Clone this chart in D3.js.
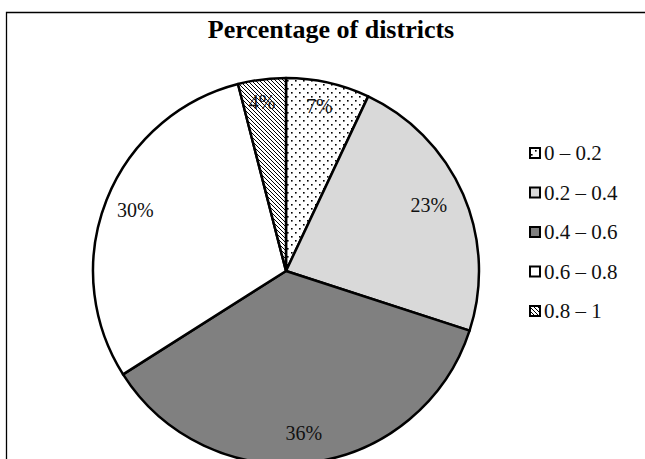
<!DOCTYPE html>
<html>
<head>
<meta charset="utf-8">
<script src="https://cdn.jsdelivr.net/npm/d3@7"></script>
<style>
  html, body { margin: 0; padding: 0; background: #fff; }
  svg { display: block; font-family: "Liberation Serif", "Times New Roman", serif; }
</style>
</head>
<body>
<svg id="chart" width="645" height="459"></svg>
<script>
// Share of districts by index range
const titleText = "Percentage of districts";
const categories = ["0 \u2013 0.2", "0.2 \u2013 0.4", "0.4 \u2013 0.6", "0.6 \u2013 0.8", "0.8 \u2013 1"];
const values = [7, 23, 36, 30, 4];
const fills = ["url(#dots)", "#d9d9d9", "#808080", "#ffffff", "url(#hatch)"];

const W = 645, H = 459;
const cx = 286, cy = 271, R = 193;

const svg = d3.select("#chart");
const defs = svg.append("defs");

// dotted fill
const dots = defs.append("pattern")
  .attr("id", "dots").attr("patternUnits", "userSpaceOnUse")
  .attr("width", 8).attr("height", 8);
dots.append("rect").attr("width", 8).attr("height", 8).attr("fill", "#fff");
dots.append("rect").attr("x", 1).attr("y", 1).attr("width", 1.6).attr("height", 1.6).attr("fill", "#000");
dots.append("rect").attr("x", 5).attr("y", 5).attr("width", 1.6).attr("height", 1.6).attr("fill", "#000");

// diagonal hatch fill
const hatch = defs.append("pattern")
  .attr("id", "hatch").attr("patternUnits", "userSpaceOnUse")
  .attr("width", 4).attr("height", 4);
hatch.append("rect").attr("width", 4).attr("height", 4).attr("fill", "#fff");
hatch.append("path").attr("d", "M-1,-1 L5,5 M-1,3 L1,5 M3,-1 L5,1")
  .attr("stroke", "#000").attr("stroke-width", 1);

// chart frame
svg.append("path")
  .attr("d", `M6.5,${H} L6.5,12.5 L${W},12.5`)
  .attr("fill", "none").attr("stroke", "#000").attr("stroke-width", 1.3);

// title
svg.append("text")
  .attr("x", 331).attr("y", 38)
  .attr("text-anchor", "middle")
  .attr("font-weight", "bold")
  .attr("font-size", 26)
  .text(titleText);

const color = d3.scaleOrdinal().domain(categories).range(fills);

const pie = d3.pie().sort(null).value(d => d.value);
const arcs = pie(categories.map((c, i) => ({ cat: c, value: values[i] })));
const arc = d3.arc().innerRadius(0).outerRadius(R);

const g = svg.append("g").attr("transform", `translate(${cx},${cy})`);

g.selectAll("path.slice")
  .data(arcs)
  .join("path")
  .attr("class", "slice")
  .attr("d", arc)
  .attr("fill", d => color(d.data.cat))
  .attr("stroke", "#000")
  .attr("stroke-width", 2.5)
  .attr("stroke-linejoin", "round");

// labels sit inside the rim: each label box is pushed outwards along the
// slice's mid-angle until its farthest corner reaches the label limit
const labelLimit = R - 13;
const boxShift = [-3, -3];
const labels = g.selectAll("text.lbl")
  .data(arcs)
  .join("text")
  .attr("class", "lbl")
  .attr("font-size", 20)
  .attr("text-anchor", "middle")
  .attr("dominant-baseline", "central")
  .attr("fill", "#111")
  .text(d => d.data.value + "%");

labels.each(function(d) {
  const bb = this.getBBox();
  const w = bb.width, h = bb.height;
  const a = (d.startAngle + d.endAngle) / 2;
  const ux = Math.sin(a), uy = -Math.cos(a);
  const fits = t => {
    const x = t * ux, y = t * uy;
    for (const sx of [-1, 1]) for (const sy of [-1, 1]) {
      if (Math.hypot(x + sx * w / 2, y + sy * h / 2) > labelLimit) return false;
    }
    return true;
  };
  let lo = 0, hi = R;
  for (let k = 0; k < 40; k++) {
    const m = (lo + hi) / 2;
    if (fits(m)) lo = m; else hi = m;
  }
  d3.select(this)
    .attr("x", lo * ux + boxShift[0])
    .attr("y", lo * uy + boxShift[1]);
});

// legend
const legendY = d3.scalePoint().domain(categories).range([153, 311]);
const lg = svg.append("g");
const rows = lg.selectAll("g")
  .data(categories)
  .join("g")
  .attr("transform", d => `translate(530,${legendY(d)})`);

rows.append("rect")
  .attr("x", 0).attr("y", -5)
  .attr("width", 10).attr("height", 10)
  .attr("fill", d => color(d))
  .attr("stroke", "#000")
  .attr("stroke-width", 2);

rows.append("text")
  .attr("x", 14).attr("y", 0)
  .attr("dominant-baseline", "central")
  .attr("font-size", 21)
  .attr("fill", "#111")
  .text(d => d);
</script>
</body>
</html>
